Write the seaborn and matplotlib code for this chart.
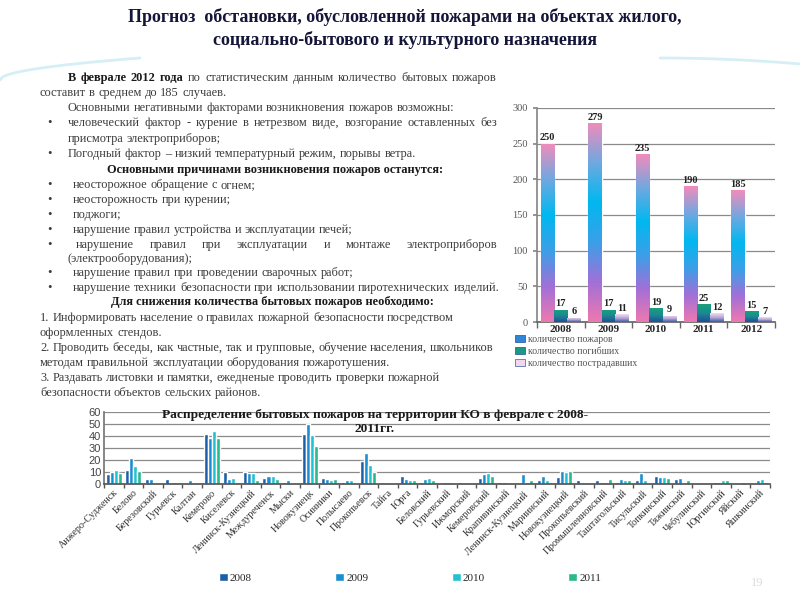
import numpy as np
import pandas as pd
import seaborn as sns
import matplotlib.pyplot as plt
from matplotlib.patches import Patch
from matplotlib.lines import Line2D
from matplotlib.colors import LinearSegmentedColormap

# --- данные: верхний график ---
years_top = ['2008', '2009', '2010', '2011', '2012']
fires = [250, 279, 235, 190, 185]
deaths = [17, 17, 19, 25, 15]
injured = [6, 11, 9, 12, 7]
series_top = ['количество пожаров', 'количество погибших', 'количество пострадавших']

# --- данные: нижний график ---
districts = ['Анжеро-Судженск', 'Белово', 'Березовский', 'Гурьевск', 'Калтан',
             'Кемерово', 'Киселевск', 'Ленинск-Кузнецкий', 'Междуреченск', 'Мыски',
             'Новокузнецк', 'Осинники', 'Полысаево', 'Прокопьевск', 'Тайга', 'Юрга',
             'Беловский', 'Гурьевский', 'Ижморский', 'Кемеровский', 'Крапивинский',
             'Ленинск-Кузнецкий ', 'Мариинский', 'Новокузнецкий', 'Прокопьевский',
             'Промышленновский', 'Таштагольский', 'Тисульский', 'Топкинский',
             'Тяжинский', 'Чебулинский', 'Юргинский', 'Яйский', 'Яшкинский']
fires_2008 = [8, 12, 4, 4, 1, 42, 10, 10, 5, 2, 42, 5, 2, 19, 0, 7, 2, 1, 2, 5,
              2, 1, 3, 6, 3, 3, 2, 3, 7, 4, 1, 2, 1, 1]
fires_2009 = [10, 22, 4, 0, 3, 38, 4, 9, 7, 3, 50, 4, 3, 26, 0, 4, 4, 2, 0, 8,
              2, 8, 7, 11, 1, 2, 4, 9, 6, 5, 1, 2, 1, 3]
fires_2010 = [12, 15, 1, 2, 1, 44, 5, 9, 7, 1, 41, 3, 3, 16, 1, 3, 5, 2, 0, 9,
              1, 2, 3, 10, 1, 2, 3, 3, 6, 1, 1, 3, 2, 4]
fires_2011 = [9, 11, 1, 2, 0, 38, 2, 3, 4, 1, 32, 4, 1, 10, 1, 3, 3, 1, 0, 7,
              1, 3, 2, 11, 1, 4, 3, 1, 5, 3, 1, 3, 1, 2]
years_bot = ['2008', '2009', '2010', '2011']

sns.set_theme(style='white')
plt.rcParams['font.family'] = ['Liberation Serif', 'DejaVu Serif']

W, H = 800, 600
fig = plt.figure(figsize=(8, 6), dpi=100)


def fx(x):
    return x / W


def fy(y):
    return 1 - y / H


TXT = '#3c3c3c'
DARK = '#1a1a1a'

# декоративная волна сверху (едва заметная)
xs = np.linspace(0, 140, 60)
fig.add_artist(Line2D(fx(xs), fy(80 - 22 * np.sqrt(xs / 140)), color='#d6eff7', lw=2))
xs2 = np.linspace(660, 800, 60)
fig.add_artist(Line2D(fx(xs2), fy(58 + 6 * ((xs2 - 660) / 140) ** 2), color='#d6eff7', lw=2))

# заголовок
fig.text(fx(405), fy(17), 'Прогноз  обстановки, обусловленной пожарами на объектах жилого,',
         ha='center', va='center', fontsize=13, fontweight='bold', color='#15153a')
fig.text(fx(405), fy(40), 'социально-бытового и культурного назначения',
         ha='center', va='center', fontsize=13, fontweight='bold', color='#15153a')

# текстовый блок
renderer = fig.canvas.get_renderer()
FS = 8.9


def put_line(x0, y, parts, x1=None, color=TXT):
    words = []
    for txt, bold in parts:
        for w in txt.split():
            words.append((w, bold))
    objs = []
    for w, bold in words:
        t = fig.text(0, fy(y), w, fontsize=FS, va='center', ha='left', color=DARK if bold else color,
                     fontweight='bold' if bold else 'normal')
        objs.append(t)
    widths = [t.get_window_extent(renderer).width for t in objs]
    gap = FS * 0.25 * 100 / 72
    if x1 is not None and len(objs) > 1:
        gap = max(gap, (x1 - x0 - sum(widths)) / (len(objs) - 1))
    x = x0
    for t, w in zip(objs, widths):
        t.set_x(fx(x))
        x += w + gap


def bullet(y):
    fig.text(fx(47), fy(y), '•', fontsize=FS, va='center', ha='left', color=TXT)


def center_bold(y, s, xc=275):
    fig.text(fx(xc), fy(y), s, fontsize=FS, va='center', ha='center', fontweight='bold', color=DARK)


put_line(68, 78, [('В феврале 2012 года', True),
                  ('по статистическим данным количество бытовых пожаров', False)], x1=497)
put_line(40, 93, [('составит в среднем до 185 случаев.', False)])
put_line(68, 108, [('Основными негативными факторами возникновения пожаров  возможны:', False)])
bullet(123)
put_line(68, 123, [('человеческий фактор - курение в нетрезвом виде, возгорание оставленных без', False)], x1=497)
put_line(68, 139, [('присмотра электроприборов;', False)])
bullet(154)
put_line(68, 154, [('Погодный фактор – низкий температурный режим, порывы ветра.', False)])
center_bold(170, 'Основными причинами возникновения пожаров останутся:')
items = [(185, 'неосторожное обращение с огнем;'),
         (200, 'неосторожность при курении;'),
         (215, 'поджоги;'),
         (230, 'нарушение правил устройства и эксплуатации печей;')]
for y, s in items:
    bullet(y)
    put_line(73, y, [(s, False)])
bullet(245)
put_line(76, 245, [('нарушение правил при эксплуатации и монтаже электроприборов', False)], x1=497)
put_line(68, 259, [('(электрооборудования);', False)])
bullet(273)
put_line(73, 273, [('нарушение  правил при проведении сварочных работ;', False)])
bullet(288)
put_line(73, 288, [('нарушение техники безопасности при использовании пиротехнических  изделий.', False)])
center_bold(302, 'Для снижения количества бытовых пожаров необходимо:', xc=272)
para = [(318, '1. Информировать население о правилах пожарной безопасности посредством'),
        (333, 'оформленных стендов.'),
        (348, '2. Проводить беседы, как частные, так и групповые, обучение населения, школьников'),
        (363, 'методам правильной эксплуатации оборудования пожаротушения.'),
        (378, '3. Раздавать листовки и памятки, ежедненые проводить проверки пожарной'),
        (393, 'безопасности объектов сельских районов.')]
for y, s in para:
    put_line(40, y, [(s, False)])

# --- верхний график ---
ax1 = fig.add_axes([fx(537), fy(322), fx(238), 214 / H])
df_top = pd.DataFrame({
    'год': years_top * 3,
    'значение': fires + deaths + injured,
    'серия': [series_top[0]] * 5 + [series_top[1]] * 5 + [series_top[2]] * 5,
})
sns.barplot(data=df_top, x='год', y='значение', hue='серия',
            palette=['#3aa0e0', '#1a9a84', '#e8c8e0'], saturation=1,
            width=0.84, legend=False, ax=ax1)

cmaps = [
    LinearSegmentedColormap.from_list('f', ['#ee78b0', '#a070d8', '#3aa0e8', '#00b8f0', '#70a8e0', '#f08cbc']),
    LinearSegmentedColormap.from_list('d', ['#1f4f9c', '#1a8a90', '#1aa07c']),
    LinearSegmentedColormap.from_list('i', ['#3a5aa8', '#b8a8d8', '#f6dcec']),
]
grad = np.linspace(0, 1, 200).reshape(-1, 1)
for cont, cmap in zip(ax1.containers, cmaps):
    for bar in cont:
        x0, w, h = bar.get_x(), bar.get_width(), bar.get_height()
        im = ax1.imshow(grad, extent=[x0, x0 + w, 0, h], origin='lower', cmap=cmap,
                        aspect='auto', zorder=3)
        im.set_clip_path(bar)
        ax1.text(x0 + w / 2, h + 2, f'{h:.0f}', ha='center', va='bottom',
                 fontsize=7.5, fontweight='bold', color='#222222', zorder=4)

ax1.set_xlim(-0.5, 4.5)
ax1.set_ylim(0, 300)
ax1.set_yticks(range(0, 301, 50))
ax1.yaxis.grid(True, color='#8a8a8a', lw=0.9)
ax1.set_axisbelow(True)
ax1.set_xlabel('')
ax1.set_ylabel('')
for s in ['top', 'right']:
    ax1.spines[s].set_visible(False)
ax1.spines['left'].set_color('#888888')
ax1.spines['bottom'].set_color('#666666')
ax1.tick_params(axis='y', labelsize=7.5, labelcolor='#555555', length=3, color='#888888', left=True)
ax1.tick_params(axis='x', labelsize=8, length=0, pad=2)
for lbl in ax1.get_xticklabels():
    lbl.set_fontweight('bold')
ax1.set_xticks(np.arange(-0.5, 5, 1), minor=True)
ax1.tick_params(axis='x', which='minor', length=4, color='#666666', bottom=True)

leg_top = [Patch(facecolor='#2f86d6', edgecolor='#1f4f9c', lw=0.5),
           Patch(facecolor='#1a9a84', edgecolor='#1f4f9c', lw=0.5),
           Patch(facecolor='#f2d6ea', edgecolor='#3a5aa8', lw=0.5)]
fig.legend(leg_top, series_top, loc='upper left', bbox_to_anchor=(fx(511), fy(331)),
           frameon=False, fontsize=7, handlelength=1.0, handleheight=0.8,
           labelspacing=0.3, handletextpad=0.3, labelcolor='#555555', borderaxespad=0)

# --- нижний график ---
ax2 = fig.add_axes([fx(104), fy(484), fx(666), 72 / H])
df_bot = pd.DataFrame({
    'район': districts * 4,
    'пожары': fires_2008 + fires_2009 + fires_2010 + fires_2011,
    'год': [y for y in years_bot for _ in districts],
})
bot_colors = ['#1d5ea8', '#1a8ed0', '#22c2d2', '#2ab88c']
sns.barplot(data=df_bot, x='район', y='пожары', hue='год', palette=bot_colors,
            saturation=1, width=0.82, legend=False, ax=ax2)
ax2.set_xlim(-0.5, len(districts) - 0.5)
ax2.set_ylim(0, 60)
ax2.set_yticks(range(0, 61, 10))
ax2.yaxis.grid(True, color='#8a8a8a', lw=0.9)
ax2.set_axisbelow(True)
ax2.set_xlabel('')
ax2.set_ylabel('')
for s in ['top', 'right']:
    ax2.spines[s].set_visible(False)
ax2.spines['left'].set_color('#777777')
ax2.spines['bottom'].set_color('#555555')
ax2.tick_params(axis='y', labelsize=8, labelcolor='#444444', length=0, pad=2)
for lbl in ax2.get_yticklabels():
    lbl.set_family(['Liberation Sans', 'DejaVu Sans'])
ax2.set_xticks(range(len(districts)))
ax2.set_xticklabels(districts, rotation=45, ha='right', rotation_mode='anchor',
                    fontsize=7.2, color='#333333')
ax2.tick_params(axis='x', length=0, pad=3)
ax2.set_xticks(np.arange(-0.5, len(districts), 1), minor=True)
ax2.tick_params(axis='x', which='minor', length=3, color='#555555', bottom=True)

fig.text(fx(375), fy(422), 'Распределение бытовых пожаров на территории КО в феврале с 2008-\n2011гг.',
         ha='center', va='center', fontsize=9.6, fontweight='bold', color=DARK, linespacing=1.3)

fig.legend([Patch(facecolor=c) for c in bot_colors], years_bot, loc='center',
           bbox_to_anchor=(fx(410), fy(578)), ncol=4, frameon=False, fontsize=8,
           handlelength=0.8, handleheight=0.8, handletextpad=0.2, columnspacing=7.5)

fig.text(fx(757), fy(583), '19', fontsize=9, color='#dddddd', ha='center', va='center')

fig.savefig('out.png', dpi=100)
